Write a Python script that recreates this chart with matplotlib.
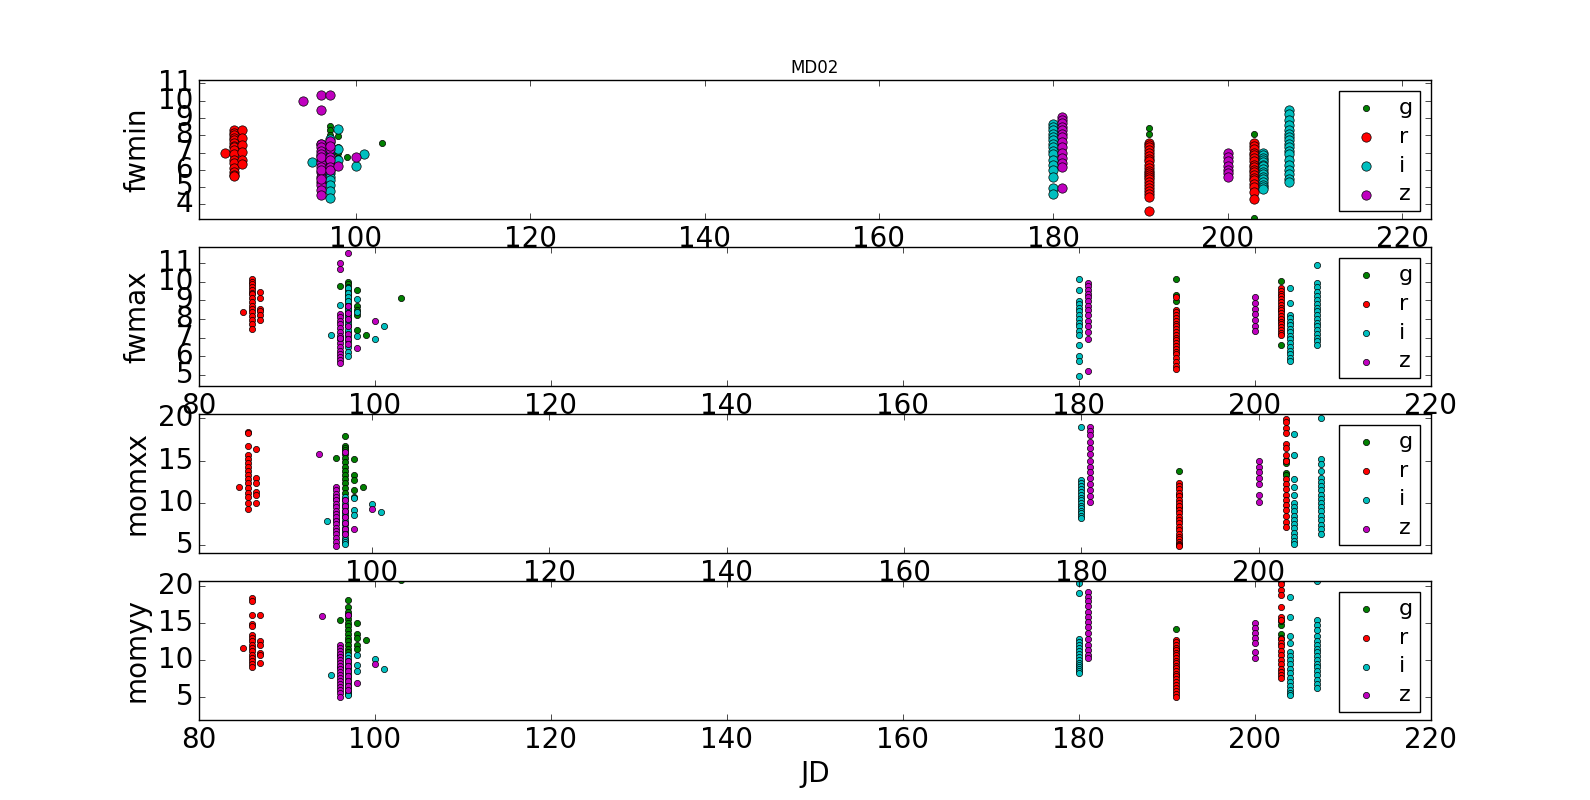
import matplotlib
matplotlib.use('Agg')
import matplotlib.pyplot as plt

plt.style.use('classic')
plt.rcParams['font.family'] = ['DejaVu Sans']

# ---------------- data ----------------
bands = ['g', 'r', 'i', 'z']
band_colors = ['g', 'r', 'c', 'm']
panel_names = ['fwmin', 'fwmax', 'momxx', 'momyy']
title = 'MD02'
xlabel = 'JD'

g_jd = [96,
        97, 97, 97, 97, 97, 97, 97, 97, 97, 97, 97, 97, 97, 97,
        98, 98, 98, 98, 98,
        99, 103,
        191, 191, 191,
        203, 203, 203, 203]
g_fwmin = [6.0,
           8.53, 8.30, 8.0, 7.8, 7.6, 7.4, 7.25, 7.1, 6.95, 6.8, 6.6, 6.4, 6.2, 6.0,
           7.95, 7.30, 6.99, 6.7, 6.5,
           6.77, 7.58,
           8.45, 8.1, 7.0,
           8.07, 7.2, 6.0, 3.19]
g_fwmax = [9.77,
           9.96, 9.85, 9.7, 9.55, 9.4, 9.2, 9.0, 8.8, 8.6, 8.4, 8.2, 8.0, 7.6, 7.3,
           9.57, 8.67, 8.5, 8.23, 7.4,
           7.15, 9.14,
           10.16, 9.27, 8.94,
           10.02, 6.61, 8.5, 8.0]
g_momxx = [15.3,
           17.9, 16.75, 16.5, 16.2, 15.8, 15.3, 14.8, 14.3, 13.8, 13.3, 12.8, 12.3, 11.8, 11.2,
           15.2, 13.3, 12.7, 11.5, 10.7,
           11.9, 21.5,
           13.8, 11.0, 9.5,
           14.7, 13.5, 13.3, 15.1]
g_momyy = [15.37,
           18.0, 17.1, 16.5, 16.0, 15.5, 15.0, 14.5, 14.0, 13.5, 13.0, 12.5, 12.0, 11.5, 11.0,
           14.9, 13.5, 13.0, 12.0, 11.5,
           12.66, 20.8,
           14.1, 11.5, 8.0,
           14.7, 13.5, 13.0, 15.2]

r_jd = [85,
        86, 86, 86, 86, 86, 86, 86, 86, 86, 86, 86, 86, 86, 86, 86, 86,
        87, 87, 87, 87, 87, 87,
        191, 191, 191, 191, 191, 191, 191, 191, 191, 191, 191,
        191, 191, 191, 191, 191, 191, 191, 191, 191, 191, 191,
        203, 203, 203, 203, 203, 203, 203, 203, 203,
        203, 203, 203, 203, 203, 203, 203, 203, 203]
r_fwmin = [7.0,
           8.30, 8.15, 8.0, 7.85, 7.72, 7.53, 7.40, 7.30, 7.14, 6.89, 6.60, 6.37, 6.08, 5.89, 5.73, 5.64,
           8.30, 7.82, 7.43, 7.04, 6.56, 6.33,
           7.56, 7.45, 7.3, 7.15, 6.95, 6.8, 6.65, 6.5, 6.3, 6.1, 5.95,
           5.8, 5.7, 5.6, 5.45, 5.3, 5.1, 4.95, 4.8, 4.6, 4.44, 3.63,
           7.56, 7.4, 7.2, 7.0, 6.85, 6.7, 6.5, 6.3, 6.15,
           6.0, 5.85, 5.7, 5.55, 5.4, 5.2, 5.0, 4.7, 4.29]
r_fwmax = [8.37,
           10.14, 10.0, 9.87, 9.7, 9.52, 9.4, 9.34, 9.12, 8.9, 8.68, 8.55, 8.37, 8.14, 7.96, 7.72, 7.47,
           9.44, 9.12, 8.55, 8.4, 8.18, 7.96,
           9.16, 8.49, 8.35, 8.2, 8.05, 7.9, 7.75, 7.6, 7.45, 7.3, 7.15,
           7.0, 6.85, 6.7, 6.55, 6.4, 6.25, 6.1, 5.9, 5.7, 5.5, 5.32,
           9.66, 9.5, 9.35, 9.2, 9.05, 8.9, 8.75, 8.6, 8.45,
           8.3, 8.15, 8.0, 7.85, 7.7, 7.55, 7.4, 7.25, 7.15]
r_momxx = [11.9,
           18.4, 18.2, 16.7, 15.6, 15.2, 14.7, 14.2, 13.8, 13.3, 12.8, 12.3, 11.8, 11.2, 10.7, 10.0, 9.25,
           16.35, 13.0, 12.4, 11.25, 11.0, 10.0,
           12.4, 12.0, 11.6, 11.2, 10.8, 10.4, 10.0, 9.6, 9.2, 8.8, 8.4,
           8.0, 7.6, 7.2, 6.8, 6.4, 6.0, 5.7, 5.4, 5.2, 5.0, 4.9,
           19.9, 19.6, 18.8, 18.2, 16.9, 16.5, 15.6, 15.0, 12.8,
           12.2, 11.6, 11.0, 10.4, 9.8, 9.2, 8.5, 7.8, 7.2]
r_momyy = [11.56,
           18.26, 17.9, 16.05, 14.8, 14.6, 13.4, 12.9, 12.5, 12.0, 11.6, 11.2, 10.7, 10.3, 9.9, 9.5, 9.04,
           16.05, 12.5, 12.0, 10.9, 10.7, 9.6,
           12.7, 12.35, 12.0, 11.65, 11.3, 10.95, 10.6, 10.25, 9.9, 9.55, 9.2,
           8.85, 8.5, 8.15, 7.8, 7.4, 7.0, 6.6, 6.2, 5.8, 5.4, 5.05,
           20.55, 20.2, 19.4, 18.7, 17.06, 15.7, 15.4, 12.84, 12.3,
           11.8, 11.2, 10.6, 10.0, 9.4, 8.8, 8.3, 7.9, 7.6]

i_jd = [95, 96, 96,
        97, 97, 97, 97, 97, 97, 97, 97, 97, 97, 97, 97, 97, 97, 97, 97,
        98, 98, 98, 100, 101,
        180, 180, 180, 180, 180, 180, 180, 180, 180, 180, 180, 180, 180, 180, 180, 180,
        204, 204, 204, 204, 204, 204, 204, 204, 204, 204, 204, 204, 204, 204, 204, 204,
        207, 207, 207, 207, 207, 207, 207, 207, 207,
        207, 207, 207, 207, 207, 207, 207, 207, 207]
i_fwmin = [6.47, 7.5, 6.8,
           7.8, 7.6, 7.4, 7.2, 7.0, 6.8, 6.6, 6.4, 6.2, 6.0, 5.8, 5.6, 5.4, 5.1, 4.8, 4.39,
           8.35, 6.56, 7.2, 6.22, 6.89,
           8.68, 8.5, 8.3, 8.1, 7.9, 7.7, 7.5, 7.3, 7.1, 6.9, 6.6, 6.3, 6.0, 5.6, 4.96, 4.58,
           6.95, 6.85, 6.7, 6.6, 6.45, 6.3, 6.2, 6.05, 5.9, 5.75, 5.6, 5.45, 5.3, 5.15, 5.0, 4.92,
           9.45, 9.26, 8.9, 8.6, 8.3, 8.1, 7.9, 7.7, 7.5,
           7.3, 7.1, 6.9, 6.6, 6.3, 6.0, 5.75, 5.5, 5.31]
i_fwmax = [7.15, 8.75, 7.0,
           9.66, 9.4, 9.15, 8.95, 8.7, 8.5, 8.3, 8.1, 7.9, 7.7, 7.4, 7.1, 6.8, 6.5, 6.2, 5.99,
           9.07, 8.37, 7.06, 6.92, 7.63,
           10.14, 9.57, 8.98, 8.8, 8.6, 8.4, 8.2, 8.0, 7.8, 7.6, 7.35, 7.15, 6.61, 5.99, 5.72, 4.96,
           9.66, 8.85, 8.23, 8.05, 7.85, 7.65, 7.45, 7.3, 7.1, 6.9, 6.7, 6.5, 6.3, 6.1, 5.9, 5.72,
           10.86, 9.93, 9.7, 9.45, 9.2, 9.0, 8.8, 8.6, 8.4,
           8.2, 8.0, 7.8, 7.6, 7.4, 7.2, 7.0, 6.8, 6.58]
i_momxx = [7.9, 10.5, 8.0,
           10.7, 10.3, 9.9, 9.5, 9.1, 8.7, 8.3, 7.9, 7.5, 7.1, 6.7, 6.3, 5.9, 5.6, 5.4, 5.2,
           10.55, 9.2, 8.6, 9.9, 8.98,
           19.0, 12.7, 12.3, 12.0, 11.6, 11.3, 11.0, 10.6, 10.3, 10.0, 9.7, 9.4, 9.1, 8.8, 8.5, 8.2,
           18.1, 15.6, 12.8, 11.9, 10.9, 10.0, 9.5, 9.0, 8.5, 8.0, 7.5, 7.0, 6.5, 6.0, 5.5, 5.2,
           20.0, 15.2, 14.6, 13.8, 13.0, 12.5, 12.0, 11.5, 11.0,
           10.5, 10.0, 9.5, 9.0, 8.5, 8.0, 7.4, 6.9, 6.4]
i_momyy = [8.0, 10.7, 9.0,
           10.7, 10.3, 9.9, 9.5, 9.1, 8.7, 8.3, 7.9, 7.5, 7.1, 6.7, 6.3, 6.0, 5.7, 5.4, 5.2,
           10.6, 9.3, 8.5, 10.1, 8.8,
           20.4, 19.0, 12.8, 12.4, 12.0, 11.6, 11.2, 10.8, 10.4, 10.0, 9.6, 9.3, 9.0, 8.7, 8.5, 8.26,
           18.4, 15.8, 13.2, 12.2, 11.0, 10.5, 10.0, 9.4, 8.8, 8.2, 7.6, 7.0, 6.5, 6.0, 5.6, 5.3,
           20.55, 15.3, 14.7, 14.0, 13.2, 12.6, 12.0, 11.5, 11.0,
           10.5, 10.0, 9.5, 9.0, 8.5, 7.9, 7.3, 6.7, 6.2]

z_jd = [94,
        96, 96, 96, 96, 96, 96, 96, 96, 96, 96, 96, 96, 96, 96, 96, 96, 96, 96,
        97, 97, 97, 97, 97, 97, 97, 97,
        98, 100,
        181, 181, 181, 181, 181, 181, 181, 181, 181, 181, 181, 181, 181, 181,
        200, 200, 200, 200, 200, 200, 200]
z_fwmin = [10.01,
           10.36, 9.49, 7.5, 7.3, 7.1, 6.9, 6.6, 6.4, 6.15, 5.9, 5.6, 5.3, 5.1, 4.85, 4.55, 6.75, 6.0, 5.45,
           10.32, 7.66, 7.18, 6.76, 6.56, 6.14, 5.98, 7.4,
           6.22, 6.72,
           9.07, 8.9, 8.7, 8.5, 8.3, 8.1, 7.9, 7.6, 7.3, 7.0, 6.7, 6.4, 6.14, 4.98,
           6.99, 6.75, 6.5, 6.25, 6.0, 5.8, 5.6]
z_fwmax = [12.3,
           11.0, 10.65, 8.28, 8.1, 7.9, 7.7, 7.5, 7.3, 7.1, 6.9, 6.7, 6.5, 6.3, 6.1, 5.95, 5.8, 5.66, 7.0,
           11.5, 8.67, 8.3, 8.0, 7.6, 7.2, 6.9, 6.67,
           6.43, 7.89,
           9.93, 9.75, 9.55, 9.35, 9.15, 8.95, 8.7, 8.45, 8.2, 7.9, 7.6, 7.3, 6.94, 5.22,
           9.16, 8.85, 8.55, 8.25, 7.95, 7.6, 7.33]
z_momxx = [15.76,
           11.9, 11.5, 11.1, 10.7, 10.3, 9.9, 9.5, 9.1, 8.7, 8.3, 7.9, 7.5, 7.1, 6.7, 6.3, 5.9, 5.4, 4.94,
           15.96, 10.3, 9.6, 9.0, 8.3, 7.6, 6.9, 6.3,
           6.9, 9.3,
           19.0, 18.5, 18.0, 17.2, 16.5, 15.8, 15.0, 14.3, 13.6, 12.9, 12.2, 11.5, 10.8, 10.1,
           15.0, 14.3, 13.6, 12.9, 12.2, 11.0, 10.1]
z_momyy = [15.96,
           12.06, 11.6, 11.2, 10.8, 10.4, 10.0, 9.6, 9.2, 8.8, 8.4, 8.0, 7.6, 7.2, 6.8, 6.4, 6.0, 5.5, 4.95,
           16.1, 9.9, 9.2, 8.5, 7.8, 7.1, 6.5, 6.0,
           6.9, 9.4,
           19.1, 18.5, 17.9, 17.2, 16.5, 15.8, 15.1, 14.4, 13.6, 12.8, 12.0, 11.3, 10.7, 10.2,
           15.0, 14.3, 13.6, 12.9, 12.2, 11.0, 10.2]

jd_by_band = [g_jd, r_jd, i_jd, z_jd]
values_by_panel = [
    [g_fwmin, r_fwmin, i_fwmin, z_fwmin],
    [g_fwmax, r_fwmax, i_fwmax, z_fwmax],
    [g_momxx, r_momxx, i_momxx, z_momxx],
    [g_momyy, r_momyy, i_momyy, z_momyy],
]

# ---------------- styling / layout ----------------
xlims = [(82.0, 223.3), (80, 220), (80.5, 219.4), (80, 220)]
ylims = [(3.15, 11.2), (4.4, 11.85), (4.1, 20.5), (1.9, 20.63)]
yticks = [[4, 5, 6, 7, 8, 9, 10, 11], [5, 6, 7, 8, 9, 10, 11],
          [5, 10, 15, 20], [5, 10, 15, 20]]
# marker areas: first panel uses larger markers for r, i, z
sizes = [[20, 45, 45, 45], [20, 20, 20, 20], [20, 20, 20, 20], [20, 20, 20, 20]]

fig, axes = plt.subplots(4, 1, figsize=(15.9, 8), dpi=100)
fig.subplots_adjust(left=0.125, right=0.9, bottom=0.1, top=0.9, hspace=0.2)

for k, ax in enumerate(axes):
    for b, band in enumerate(bands):
        ax.scatter(jd_by_band[b], values_by_panel[k][b], s=sizes[k][b],
                   c=band_colors[b], edgecolors='k', linewidths=0.5,
                   label=band, zorder=2)
    ax.set_xticks([80, 100, 120, 140, 160, 180, 200, 220])
    ax.set_xlim(*xlims[k])
    ax.set_ylim(*ylims[k])
    ax.set_yticks(yticks[k])
    ax.tick_params(labelsize=20)
    ax.set_ylabel(panel_names[k], fontsize=20)
    leg = ax.legend(loc='upper right', scatterpoints=1, fontsize=16,
                    fancybox=False, frameon=True, borderpad=0.3,
                    handlelength=1.8, handletextpad=0.6, labelspacing=0.4)
    leg.get_frame().set_edgecolor('k')

axes[0].set_title(title, fontsize=12)
axes[-1].set_xlabel(xlabel, fontsize=20)

fig.savefig('out.png', dpi=100)
